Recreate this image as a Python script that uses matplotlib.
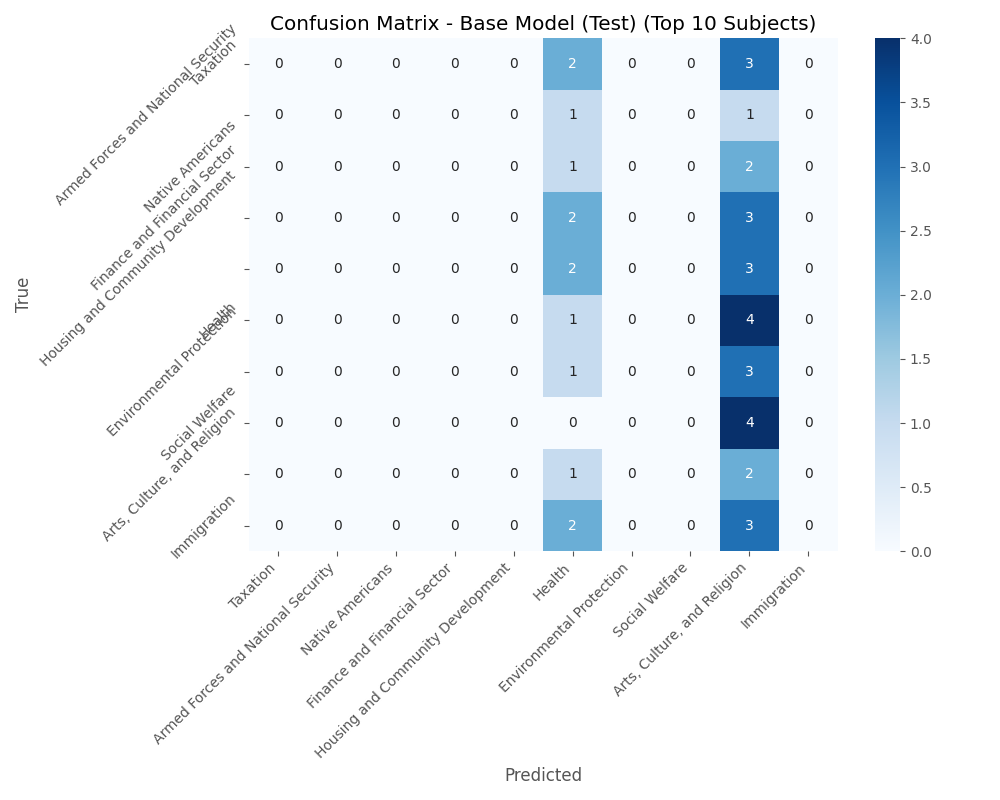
import numpy as np
import matplotlib
matplotlib.use("Agg")
import matplotlib.pyplot as plt
import seaborn as sns

subjects = ["Taxation", "Armed Forces and National Security", "Native Americans",
            "Finance and Financial Sector", "Housing and Community Development",
            "Health", "Environmental Protection", "Social Welfare",
            "Arts, Culture, and Religion", "Immigration"]

# counts predicted as Health / Arts, Culture, and Religion for each true subject
pred_health = [2, 1, 1, 2, 2, 1, 1, 0, 1, 2]
pred_arts = [3, 1, 2, 3, 3, 4, 3, 4, 2, 3]

cm = np.zeros((len(subjects), len(subjects)), dtype=int)
cm[:, 5] = pred_health
cm[:, 8] = pred_arts

grey = "#555555"
plt.rcParams['text.color'] = grey
plt.rcParams['axes.labelcolor'] = grey
plt.rcParams['xtick.color'] = grey
plt.rcParams['ytick.color'] = grey

fig = plt.figure(figsize=(10, 8), dpi=100)
ax = sns.heatmap(cm, annot=True, fmt="d", cmap="Blues",
                 xticklabels=subjects, yticklabels=subjects)
plt.title("Confusion Matrix - Base Model (Test) (Top 10 Subjects)", color="black", fontsize=14.4)
plt.xlabel("Predicted", fontsize=12)
plt.ylabel("True", fontsize=12)
plt.xticks(rotation=45, ha="right")
plt.yticks(rotation=45)
plt.tight_layout()
plt.savefig("out.png")
